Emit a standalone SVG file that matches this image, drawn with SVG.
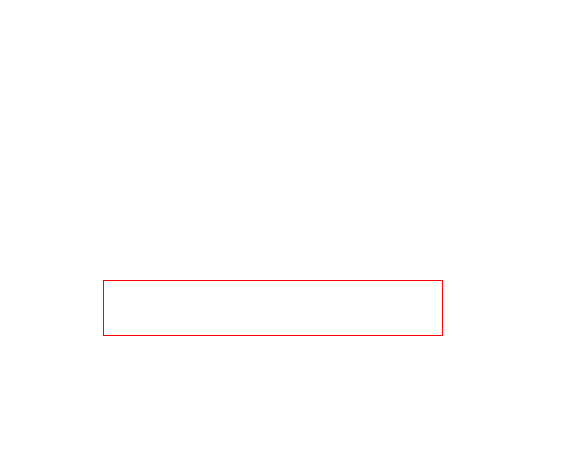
<svg xmlns="http://www.w3.org/2000/svg" width="582" height="462" viewBox="0 0 582 462">
<style>
.box{fill:none;stroke:#ff0000;stroke-width:1}
</style>
<rect width="582" height="462" fill="#ffffff"/>
<g id="box1">
<rect class="box" x="103.5" y="280.5" width="339" height="55"/>
</g>
<g id="connectors"></g>
</svg>
